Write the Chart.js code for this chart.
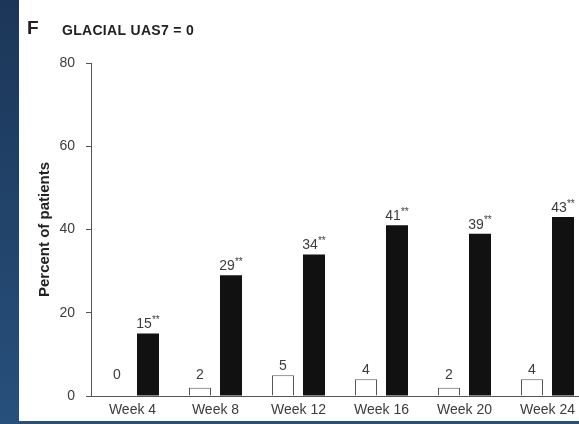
<!DOCTYPE html>
<html>
<head>
<meta charset="utf-8">
<script src="https://cdn.jsdelivr.net/npm/chart.js@4.4.1/dist/chart.umd.min.js"></script>
<style>
  html, body { margin: 0; padding: 0; width: 579px; height: 424px; overflow: hidden; }
  body { position: relative; background: linear-gradient(#1c3658, #27507c); }
  #panel { position: absolute; left: 19px; top: 0; right: 0; height: 421px; background: #fff; overflow: hidden; }
  #chart { position: absolute; left: 0; top: 0; }
</style>
</head>
<body>
<div id="panel"><canvas id="chart" width="600" height="421"></canvas></div>
<script>
// weeks on the x axis
const weeks = ['Week 4', 'Week 8', 'Week 12', 'Week 16', 'Week 20', 'Week 24'];
// % of patients with UAS7 = 0
const placebo = [0, 2, 5, 4, 2, 4];
const omalizumab = [15, 29, 34, 41, 39, 43];
// significance vs placebo
const omalizumabSig = ['**', '**', '**', '**', '**', '**'];
const yTicks = [0, 20, 40, 60, 80];

const FONT = '"Liberation Sans", Arial, Helvetica, sans-serif';
const TEXT = '#3c3c3c';
Chart.defaults.font.family = FONT;

// value labels above every bar, with the stars as a superscript
const barLabels = {
  id: 'barLabels',
  afterDatasetsDraw(chart) {
    const ctx = chart.ctx;
    const base = chart.scales.y.getPixelForValue(0);
    ctx.save();
    ctx.fillStyle = TEXT;
    ctx.textBaseline = 'middle';
    ctx.textAlign = 'left';
    chart.data.datasets.forEach((ds, i) => {
      chart.getDatasetMeta(i).data.forEach((bar, j) => {
        const y = Math.min(bar.y, base - 12) - 9;
        const num = String(ds.data[j]);
        const sup = ds.marks ? ds.marks[j] : '';
        ctx.font = '14px ' + FONT;
        const w1 = ctx.measureText(num).width;
        ctx.font = '10px ' + FONT;
        const w2 = sup ? ctx.measureText(sup).width : 0;
        const x = bar.x - (w1 + w2) / 2;
        ctx.font = '14px ' + FONT;
        ctx.fillText(num, x, y);
        if (sup) {
          ctx.font = '10px ' + FONT;
          ctx.fillText(sup, x + w1, y - 4);
        }
      });
    });
    ctx.restore();
  }
};

// panel letter and heading
const header = {
  id: 'header',
  afterDraw(chart) {
    const ctx = chart.ctx;
    ctx.save();
    ctx.fillStyle = '#222';
    ctx.textBaseline = 'middle';
    ctx.textAlign = 'left';
    ctx.font = 'bold 19px ' + FONT;
    ctx.fillText('F', 8, 29);
    ctx.font = 'bold 14px ' + FONT;
    ctx.letterSpacing = '0.3px';
    ctx.fillText('GLACIAL UAS7 = 0', 43, 31);
    ctx.restore();
  }
};

new Chart('chart', {
  type: 'bar',
  data: {
    labels: weeks,
    datasets: [{
      label: 'Placebo',
      data: placebo,
      backgroundColor: '#fff',
      borderColor: '#555',
      borderWidth: 1,
      categoryPercentage: 0.747,
      barPercentage: 0.71
    }, {
      label: 'Omalizumab',
      data: omalizumab,
      marks: omalizumabSig,
      backgroundColor: '#111',
      borderWidth: 0,
      categoryPercentage: 0.747,
      barPercentage: 0.71
    }]
  },
  options: {
    responsive: false,
    animation: false,
    layout: { padding: { top: 63, right: 30, left: 0, bottom: 0 } },
    plugins: { legend: { display: false }, tooltip: { enabled: false } },
    scales: {
      x: {
        grid: { display: false, drawTicks: false },
        border: { color: '#555', width: 1 },
        ticks: { color: TEXT, font: { size: 14 }, padding: 6 },
        afterFit(s) { s.height = 25; }
      },
      y: {
        min: 0,
        max: 80,
        afterBuildTicks(s) { s.ticks = yTicks.map(v => ({ value: v })); },
        grid: { drawOnChartArea: false, drawTicks: true, tickLength: 5, color: '#555' },
        border: { color: '#555', width: 1 },
        ticks: { color: TEXT, font: { size: 14 }, padding: 11 },
        title: {
          display: true,
          text: 'Percent of patients',
          color: '#222',
          font: { size: 15, weight: 'bold' },
          padding: { top: 17, bottom: 0 }
        },
        afterFit(s) { s.width = 72; }
      }
    }
  },
  plugins: [barLabels, header]
});
</script>
</body>
</html>
